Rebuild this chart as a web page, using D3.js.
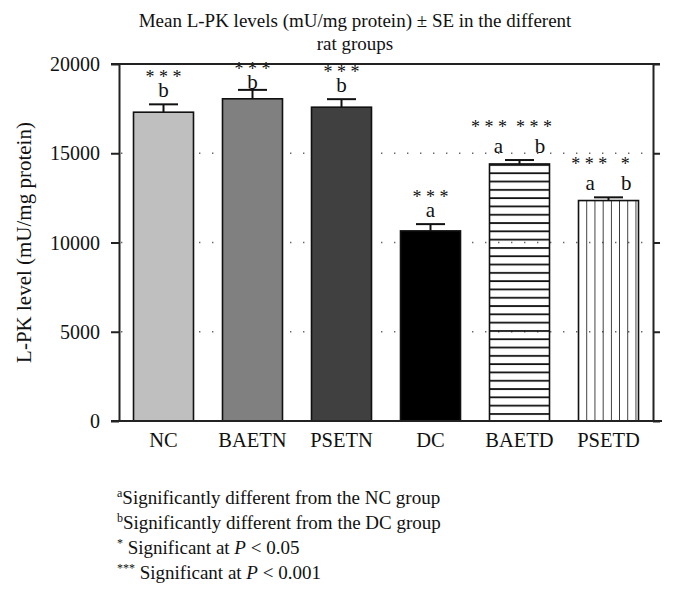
<!DOCTYPE html>
<html><head><meta charset="utf-8">
<script src="https://cdn.jsdelivr.net/npm/d3@7"></script>
<style>
html,body{margin:0;padding:0;background:#fff;}
svg text{font-family:"Liberation Serif","DejaVu Serif",serif;fill:#111;}
</style></head>
<body><svg id="c" width="674" height="605"></svg>
<script>
const categories = ["NC","BAETN","PSETN","DC","BAETD","PSETD"];
const means = [17300, 18050, 17580, 10650, 14400, 12350];
const errors = [440, 500, 450, 380, 220, 180];
const fills = ["#bfbfbf","#808080","#404040","#000000","hatchH","hatchV"];
const starLabels = ["* * *","* * *","* * *","* * *","* * *  * * *","* * *   *"];
const letterLabels = ["b","b","b","a","a      b","a     b"];
const yTicks = [0,5000,10000,15000,20000];
const gridTicks = [5000,10000,15000];
const titleLines = ["Mean L-PK levels (mU/mg protein) \u00B1 SE in the different","rat groups"];
const yTitle = "L-PK level (mU/mg protein)";

const svg = d3.select("#c");
const L = 119, R = 653, T = 64, B = 421;
const x = d3.scaleBand().domain(categories).range([L,R]).paddingInner(0.326).paddingOuter(0.163);
const y = d3.scaleLinear().domain([0,20000]).range([B,T]);

const defs = svg.append("defs");
const ph = defs.append("pattern").attr("id","hatchH").attr("patternUnits","userSpaceOnUse")
  .attr("width",10).attr("height",8.3).attr("y", y(14400));
ph.append("line").attr("x1",0).attr("x2",10).attr("y1",1).attr("y2",1).attr("stroke","#111").attr("stroke-width",1.8);
const pv = defs.append("pattern").attr("id","hatchV").attr("patternUnits","userSpaceOnUse")
  .attr("width",8.2).attr("height",10).attr("x",x("PSETD")+0.5);
pv.append("line").attr("y1",0).attr("y2",10).attr("x1",8.2).attr("x2",8.2).attr("stroke","#111").attr("stroke-width",1.6);

// title
svg.append("g").selectAll("text").data(titleLines).join("text")
  .attr("x",355).attr("y",(d,i)=>27+i*23).attr("text-anchor","middle")
  .attr("font-size",19).text(d=>d);

// grid
svg.append("g").selectAll("line").data(gridTicks).join("line")
  .attr("x1",L+2).attr("x2",R).attr("y1",d=>y(d)).attr("y2",d=>y(d))
  .attr("stroke","#666").attr("stroke-width",1.4).attr("stroke-dasharray","1.4,11.6");

// bars
const data = categories.map((c,i)=>({c,m:means[i],e:errors[i],f:fills[i],s:starLabels[i],l:letterLabels[i]}));
svg.append("g").selectAll("rect").data(data).join("rect")
  .attr("x",d=>x(d.c)).attr("width",x.bandwidth())
  .attr("y",d=>y(d.m)).attr("height",d=>B-y(d.m))
  .attr("fill",d=>d.f.startsWith("hatch")?`url(#${d.f})`:d.f)
  .attr("stroke","#111").attr("stroke-width",1.6);

// error bars
const eb = svg.append("g").attr("stroke","#111").attr("stroke-width",2);
eb.selectAll(".v").data(data).join("line")
  .attr("x1",d=>x(d.c)+x.bandwidth()/2).attr("x2",d=>x(d.c)+x.bandwidth()/2)
  .attr("y1",d=>y(d.m)).attr("y2",d=>y(d.m+d.e));
eb.selectAll(".h").data(data).join("line")
  .attr("x1",d=>x(d.c)+x.bandwidth()/2-14.5).attr("x2",d=>x(d.c)+x.bandwidth()/2+14.5)
  .attr("y1",d=>y(d.m+d.e)).attr("y2",d=>y(d.m+d.e));

// annotations
const letterBase = d => Math.max(y(d.m+d.e) - 7, T + 25);
const ann = svg.append("g").attr("text-anchor","middle");
ann.selectAll(".l").data(data).join("text")
  .attr("x",d=>x(d.c)+x.bandwidth()/2).attr("y",letterBase)
  .attr("font-size",21).style("white-space","pre").text(d=>d.l);
ann.selectAll(".s").data(data).join("text")
  .attr("x",d=>x(d.c)+x.bandwidth()/2 - (d.s.includes("  ")?8:0))
  .attr("y",d=>letterBase(d) - (d.l.length>1 ? 20 : 14))
  .attr("font-size",18).style("white-space","pre").text(d=>d.s);

// axes
const ay = svg.append("g").attr("transform",`translate(${L},0)`)
  .call(d3.axisLeft(y).tickValues(yTicks).tickSize(8).tickSizeOuter(0).tickFormat(d3.format("d")));
ay.select(".domain").attr("stroke","#222").attr("stroke-width",2);
ay.selectAll(".tick line").attr("stroke","#222").attr("stroke-width",2);
ay.selectAll(".tick text").attr("font-size",20).attr("font-family","Liberation Serif").attr("fill","#111").attr("x",-19).attr("dy","0.33em");

const ar = svg.append("g").attr("transform",`translate(${R},0)`)
  .call(d3.axisRight(y).tickValues(yTicks).tickSize(7).tickSizeOuter(0).tickFormat(""));
ar.select(".domain").attr("stroke","#222").attr("stroke-width",2);
ar.selectAll(".tick line").attr("stroke","#222").attr("stroke-width",2);

svg.append("line").attr("x1",L-8).attr("x2",R+7).attr("y1",T).attr("y2",T).attr("stroke","#222").attr("stroke-width",2);
svg.append("line").attr("x1",L-8).attr("x2",R+9).attr("y1",B).attr("y2",B).attr("stroke","#222").attr("stroke-width",2);

const ax = svg.append("g").attr("transform",`translate(0,${B})`)
  .call(d3.axisBottom(x).tickSize(0).tickPadding(0));
ax.select(".domain").remove();
ax.selectAll(".tick text").attr("font-size",20.5).attr("font-family","Liberation Serif").attr("fill","#111").attr("y",26).attr("dy",0);

svg.append("text").attr("transform",`translate(31,${(T+B)/2}) rotate(-90)`)
  .attr("text-anchor","middle").attr("font-size",21).text(yTitle);

// footnotes
const fn = svg.append("g").attr("font-size",19);
const notes = [
  {sup:"a", parts:[["Significantly different from the NC group",false]]},
  {sup:"b", parts:[["Significantly different from the DC group",false]]},
  {sup:"*", parts:[[" Significant at ",false],["P",true],[" < 0.05",false]]},
  {sup:"***", parts:[[" Significant at ",false],["P",true],[" < 0.001",false]]}
];
notes.forEach((n,i)=>{
  const t = fn.append("text").attr("x",117).attr("y",504+i*25).style("white-space","pre");
  t.append("tspan").attr("font-size",12).attr("dy",-7).text(n.sup);
  n.parts.forEach((p,j)=>{
    const s = t.append("tspan").text(p[0]);
    if (j===0) s.attr("dy",7);
    if (p[1]) s.attr("font-style","italic");
  });
});
</script></body></html>
